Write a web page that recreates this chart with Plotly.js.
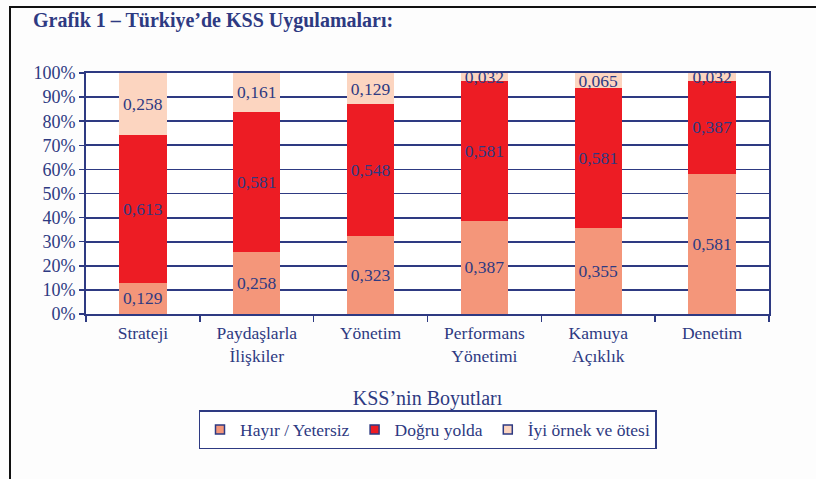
<!DOCTYPE html>
<html><head><meta charset="utf-8">
<script src="https://cdn.plot.ly/plotly-3.0.1.min.js"></script>
<style>
html,body{margin:0;padding:0;background:#fdfdfd;overflow:hidden;width:816px;height:479px}
#chart{position:absolute;left:0;top:0;width:816px;height:479px}
#frame{position:absolute;left:9px;top:6px;width:830px;height:500px;border-top:2px solid #111;border-left:2px solid #111;pointer-events:none}
</style>
</head><body><div id="chart"></div><div id="frame"></div>
<script>
const categories = ['Strateji','Paydaşlarla<br>İlişkiler','Yönetim','Performans<br>Yönetimi','Kamuya<br>Açıklık','Denetim'];
const hayir = [0.129,0.258,0.323,0.387,0.355,0.581];
const dogru = [0.613,0.581,0.548,0.581,0.581,0.387];
const iyi   = [0.258,0.161,0.129,0.032,0.065,0.032];
const seriesNames = ['Hayır / Yetersiz','Doğru yolda','İyi örnek ve ötesi'];
const seriesValues = [hayir, dogru, iyi];
const colors = ['#F4967A','#ED1C24','#FCD5C0'];
const navy = '#2E3A82';
const serif = 'Liberation Serif';

const traces = [];
seriesValues.forEach((vals, i) => {
  traces.push({
    type:'bar', x:categories, y:vals, name:seriesNames[i], showlegend:false,
    marker:{color:colors[i], line:{width:0}},
    texttemplate:'%{y:.3f}', textposition:'inside', insidetextanchor:'middle',
    textangle:0, constraintext:'none',
    textfont:{family:serif, size:17.5, color:navy},
    hoverinfo:'skip'
  });
});
seriesNames.forEach((n, i) => {
  traces.push({
    type:'scatter', mode:'markers', x:[null], y:[null], name:n, showlegend:true,
    marker:{symbol:'square', size:9, color:colors[i], line:{color:navy, width:1.5}},
    hoverinfo:'skip'
  });
});

const layout = {
  width:816, height:479,
  paper_bgcolor:'#fdfdfd', plot_bgcolor:'#ffffff',
  margin:{l:86, r:47, t:73, b:165},
  barmode:'stack', bargap:0.585,
  separators:',.',
  font:{family:serif, color:navy, size:17},
  title:{text:'<b>Grafik 1 – Türkiye’de KSS Uygulamaları:</b>', xref:'container', x:33/816, xanchor:'left',
         yref:'container', y:1-20/479, yanchor:'middle', font:{family:serif, size:20, color:navy}},
  xaxis:{type:'category', tickson:'boundaries', ticks:'outside', ticklen:6, tickwidth:1.5, tickcolor:navy,
         showline:true, linecolor:navy, linewidth:2, mirror:true, showgrid:false, ticklabelstandoff:2,
         tickfont:{family:serif, size:17.5, color:navy},
         title:{text:'KSS’nin Boyutları', standoff:28, font:{family:serif, size:20, color:navy}}},
  yaxis:{range:[0,1], dtick:0.1, tickformat:'.0%', ticks:'outside', ticklen:5, tickwidth:1.5, tickcolor:navy,
         showline:true, linecolor:navy, linewidth:2, mirror:true, zeroline:false,
         showgrid:true, gridcolor:navy, gridwidth:1.8,
         tickfont:{family:serif, size:18, color:navy}},
  legend:{orientation:'h', x:0.5, xanchor:'center', yref:'container', y:1-410/479, yanchor:'top',
          bordercolor:navy, borderwidth:1.5, bgcolor:'#ffffff', traceorder:'normal',
          font:{family:serif, size:17.5, color:navy}, itemclick:false, itemdoubleclick:false}
};

Plotly.newPlot('chart', traces, layout, {displayModeBar:false, staticPlot:true});
</script>
</body></html>
